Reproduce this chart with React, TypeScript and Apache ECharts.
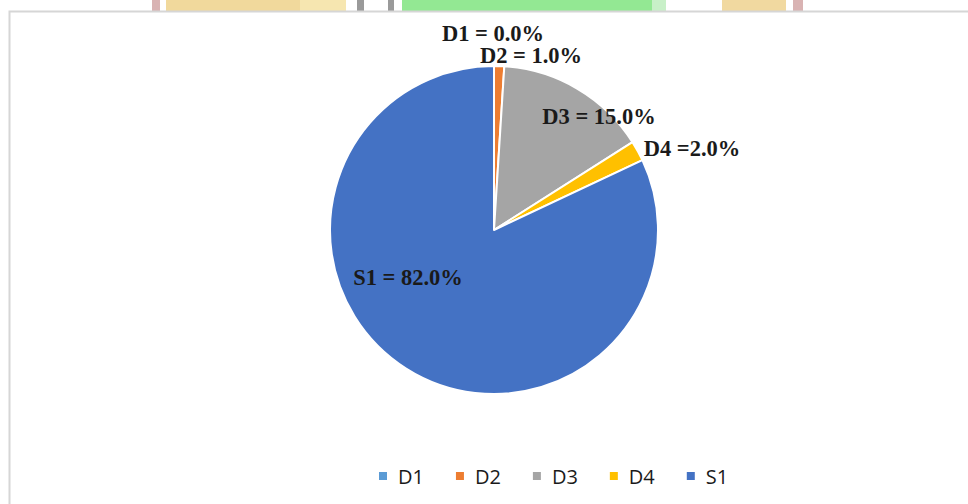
import React, { useEffect, useRef } from "react";
import * as echarts from "echarts";

const categories = ["D1", "D2", "D3", "D4", "S1"];
const values = [0.0, 1.0, 15.0, 2.0, 82.0];
const colors = ["#5B9BD5", "#ED7D31", "#A5A5A5", "#FFC000", "#4472C4"];
const labelTexts = ["D1 = 0.0%", "D2 = 1.0%", "D3 = 15.0%", "D4 =2.0%", "S1 = 82.0%"];
// label centres (layout only)
const labelPos = [
  [493, 33],
  [531, 55.5],
  [599, 116],
  [692, 148],
  [408, 277],
];

export default function App() {
  const ref = useRef<HTMLDivElement>(null);
  useEffect(() => {
    if (!ref.current) return;
    const chart = echarts.init(ref.current, undefined, { renderer: "svg" });
    chart.setOption({
      animation: false,
      backgroundColor: "#ffffff",
      graphic: [
        // scanned background strip at the top
        { type: "rect", shape: { x: 152, y: 0, width: 8, height: 11 }, style: { fill: "#d9b3b3" } },
        { type: "rect", shape: { x: 166, y: 0, width: 170, height: 11 }, style: { fill: "#f1d99c" } },
        { type: "rect", shape: { x: 300, y: 0, width: 46, height: 11 }, style: { fill: "#f6e6b0" } },
        { type: "rect", shape: { x: 357, y: 0, width: 7, height: 11 }, style: { fill: "#9a9a9a" } },
        { type: "rect", shape: { x: 388, y: 0, width: 6, height: 11 }, style: { fill: "#9a9a9a" } },
        { type: "rect", shape: { x: 402, y: 0, width: 250, height: 11 }, style: { fill: "#93e893" } },
        { type: "rect", shape: { x: 652, y: 0, width: 14, height: 11 }, style: { fill: "#c8f0c8" } },
        { type: "rect", shape: { x: 722, y: 0, width: 64, height: 11 }, style: { fill: "#f1d9a0" } },
        { type: "rect", shape: { x: 793, y: 0, width: 10, height: 11 }, style: { fill: "#d9b3b3" } },
        // chart frame
        {
          type: "rect",
          shape: { x: 9.5, y: 11.5, width: 980, height: 520 },
          style: { fill: "none", stroke: "#d6d6d6", lineWidth: 2 },
        },
      ],
      legend: {
        data: categories,
        left: 372,
        top: 461,
        icon: "rect",
        itemWidth: 10,
        itemHeight: 10,
        itemGap: 30,
        textStyle: {
          fontFamily: "Open Sans",
          fontSize: 20,
          color: "#1a1a1a",
          padding: [0, 0, 0, 5],
        },
      },
      series: [
        {
          type: "pie",
          center: [494, 230],
          radius: [0, 164],
          startAngle: 90,
          clockwise: true,
          minAngle: 0,
          avoidLabelOverlap: false,
          itemStyle: { borderColor: "#ffffff", borderWidth: 2 },
          label: {
            show: true,
            position: "inside",
            fontFamily: "Liberation Serif",
            fontWeight: "bold",
            fontSize: 22.5,
            lineHeight: 19,
            color: "#1a1a1a",
            formatter: (p: any) => labelTexts[p.dataIndex],
          },
          labelLine: { show: false },
          labelLayout: (p: any) => ({
            x: labelPos[p.dataIndex][0],
            y: labelPos[p.dataIndex][1],
            align: "center",
            verticalAlign: "middle",
          }),
          data: categories.map((c, i) => ({
            name: c,
            value: values[i],
            itemStyle: { color: colors[i] },
          })),
        },
      ],
    });
    return () => chart.dispose();
  }, []);
  return (
    <div
      ref={ref}
      style={{ position: "fixed", left: 0, top: 0, width: 968, height: 504 }}
    />
  );
}
